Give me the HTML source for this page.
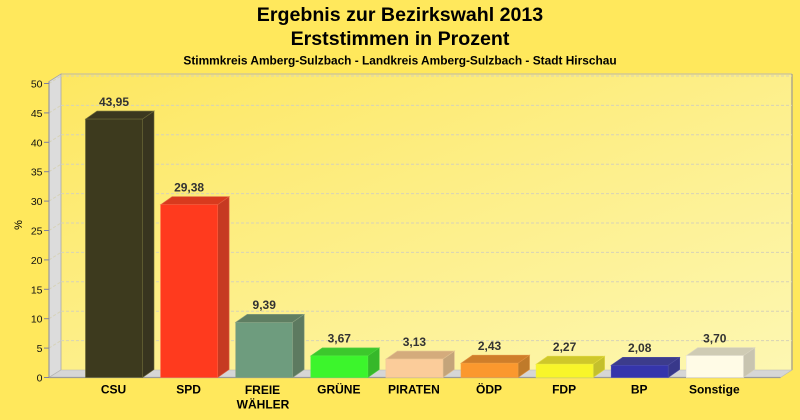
<!DOCTYPE html>
<html><head><meta charset="utf-8"><style>
html,body{margin:0;padding:0;background:#ffe85c;}
svg{display:block;}
text{font-family:"Liberation Sans",Arial,sans-serif;}
</style></head><body>
<svg width="800" height="420" viewBox="0 0 800 420" xmlns="http://www.w3.org/2000/svg">
<defs>
<linearGradient id="bg" x1="0" y1="0" x2="1" y2="1">
<stop offset="0" stop-color="#fde761"/>
<stop offset="1" stop-color="#fdf7b2"/>
</linearGradient>
</defs>
<rect width="800" height="420" fill="#ffe85c"/>
<!-- titles -->
<text x="400" y="21" text-anchor="middle" font-size="19.6" font-weight="bold" fill="#000">Ergebnis zur Bezirkswahl 2013</text>
<text x="400" y="45" text-anchor="middle" font-size="19.6" font-weight="bold" fill="#000">Erststimmen in Prozent</text>
<text x="400" y="64.5" text-anchor="middle" font-size="11.9" font-weight="bold" fill="#000">Stimmkreis Amberg-Sulzbach - Landkreis Amberg-Sulzbach - Stadt Hirschau</text>

<!-- back plane -->
<rect x="61" y="74" width="731" height="296" fill="url(#bg)"/>
<line x1="61" y1="74" x2="792" y2="74" stroke="#c9c29a" stroke-width="1.2"/>
<line x1="792" y1="74" x2="792" y2="370" stroke="#b0a98a" stroke-width="1.5"/>
<!-- left wall -->
<polygon points="49,81.5 61,74 61,370 49,377.5" fill="#dcdcdc" stroke="#a8a8a8" stroke-width="0.8"/>
<!-- floor -->
<polygon points="49,377.5 61,370 792,370 780.5,377.5" fill="#d6d6d6" stroke="#b8b8b8" stroke-width="0.6"/>

<!-- gridlines -->
<g stroke="#d6d2b8" stroke-width="1" stroke-dasharray="3,2" fill="none">
<line x1="61" y1="76" x2="792" y2="76"/>
<line x1="61" y1="105.4" x2="792" y2="105.4"/>
<line x1="61" y1="134.8" x2="792" y2="134.8"/>
<line x1="61" y1="164.2" x2="792" y2="164.2"/>
<line x1="61" y1="193.6" x2="792" y2="193.6"/>
<line x1="61" y1="223" x2="792" y2="223"/>
<line x1="61" y1="252.4" x2="792" y2="252.4"/>
<line x1="61" y1="281.8" x2="792" y2="281.8"/>
<line x1="61" y1="311.2" x2="792" y2="311.2"/>
<line x1="61" y1="340.6" x2="792" y2="340.6"/>
<line x1="49" y1="83.5" x2="61" y2="76"/>
<line x1="49" y1="112.9" x2="61" y2="105.4"/>
<line x1="49" y1="142.3" x2="61" y2="134.8"/>
<line x1="49" y1="171.7" x2="61" y2="164.2"/>
<line x1="49" y1="201.1" x2="61" y2="193.6"/>
<line x1="49" y1="230.5" x2="61" y2="223"/>
<line x1="49" y1="259.9" x2="61" y2="252.4"/>
<line x1="49" y1="289.3" x2="61" y2="281.8"/>
<line x1="49" y1="318.7" x2="61" y2="311.2"/>
<line x1="49" y1="348.1" x2="61" y2="340.6"/>
</g>

<!-- axes -->
<line x1="49" y1="81.5" x2="49" y2="377.5" stroke="#9a9a9a" stroke-width="1.2"/>
<line x1="49" y1="377.5" x2="780.5" y2="377.5" stroke="#9a9a9a" stroke-width="1.2"/>
<g stroke="#8080a0" stroke-width="1">
<line x1="44" y1="377.5" x2="49" y2="377.5"/>
<line x1="44" y1="348.1" x2="49" y2="348.1"/>
<line x1="44" y1="318.7" x2="49" y2="318.7"/>
<line x1="44" y1="289.3" x2="49" y2="289.3"/>
<line x1="44" y1="259.9" x2="49" y2="259.9"/>
<line x1="44" y1="230.5" x2="49" y2="230.5"/>
<line x1="44" y1="201.1" x2="49" y2="201.1"/>
<line x1="44" y1="171.7" x2="49" y2="171.7"/>
<line x1="44" y1="142.3" x2="49" y2="142.3"/>
<line x1="44" y1="112.9" x2="49" y2="112.9"/>
<line x1="44" y1="83.5" x2="49" y2="83.5"/>
</g>
<g font-size="10.5" fill="#111" text-anchor="end">
<text x="42.5" y="381.5">0</text>
<text x="42.5" y="352.1">5</text>
<text x="42.5" y="322.7">10</text>
<text x="42.5" y="293.3">15</text>
<text x="42.5" y="263.9">20</text>
<text x="42.5" y="234.5">25</text>
<text x="42.5" y="205.1">30</text>
<text x="42.5" y="175.7">35</text>
<text x="42.5" y="146.3">40</text>
<text x="42.5" y="116.9">45</text>
<text x="42.5" y="87.5">50</text>
</g>
<text x="0" y="0" font-size="11" fill="#000" text-anchor="middle" transform="translate(22,225) rotate(-90)">%</text>

<!-- bars -->
<g stroke-width="0.6">
<!-- CSU -->
<polygon points="85.5,119.1 97,111.1 154,111.1 142.5,119.1" fill="#3b381f" stroke="#6b6838"/>
<polygon points="142.5,119.1 154,111.1 154,369.5 142.5,377.5" fill="#38351f" stroke="#6b6838"/>
<rect x="85.5" y="119.1" width="57" height="258.4" fill="#3d3a1e" stroke="#6b6838"/>
<!-- SPD -->
<polygon points="160.6,204.7 172.1,196.7 229.1,196.7 217.6,204.7" fill="#d83a1e" stroke="#e06040"/>
<polygon points="217.6,204.7 229.1,196.7 229.1,369.5 217.6,377.5" fill="#c63a22" stroke="#e06040"/>
<rect x="160.6" y="204.7" width="57" height="172.8" fill="#ff3a1e" stroke="#ff6040"/>
<!-- FREIE WÄHLER -->
<polygon points="235.7,322.3 247.2,314.3 304.2,314.3 292.7,322.3" fill="#5f7e62" stroke="#8aa080"/>
<polygon points="292.7,322.3 304.2,314.3 304.2,369.5 292.7,377.5" fill="#5d7a60" stroke="#8aa080"/>
<rect x="235.7" y="322.3" width="57" height="55.2" fill="#6e9c7e" stroke="#8aa080"/>
<!-- GRÜNE -->
<polygon points="310.8,355.9 322.3,347.9 379.3,347.9 367.8,355.9" fill="#3cc82c" stroke="#50d040"/>
<polygon points="367.8,355.9 379.3,347.9 379.3,369.5 367.8,377.5" fill="#36b82a" stroke="#50d040"/>
<rect x="310.8" y="355.9" width="57" height="21.6" fill="#3cf52c" stroke="#50f040"/>
<!-- PIRATEN -->
<polygon points="385.9,359.1 397.4,351.1 454.4,351.1 442.9,359.1" fill="#d4ab7c" stroke="#e0c090"/>
<polygon points="442.9,359.1 454.4,351.1 454.4,369.5 442.9,377.5" fill="#c4a47a" stroke="#e0c090"/>
<rect x="385.9" y="359.1" width="57" height="18.4" fill="#fbcc9a" stroke="#f0c898"/>
<!-- ÖDP -->
<polygon points="461,363.2 472.5,355.2 529.5,355.2 518,363.2" fill="#cf7e2a" stroke="#e09040"/>
<polygon points="518,363.2 529.5,355.2 529.5,369.5 518,377.5" fill="#bf7a2a" stroke="#e09040"/>
<rect x="461" y="363.2" width="57" height="14.3" fill="#fb982e" stroke="#f0a040"/>
<!-- FDP -->
<polygon points="536.1,364.2 547.6,356.2 604.6,356.2 593.1,364.2" fill="#cfc82a" stroke="#e0d840"/>
<polygon points="593.1,364.2 604.6,356.2 604.6,369.5 593.1,377.5" fill="#c4c02c" stroke="#e0d840"/>
<rect x="536.1" y="364.2" width="57" height="13.3" fill="#f8f52a" stroke="#f0f040"/>
<!-- BP -->
<polygon points="611.2,365.3 622.7,357.3 679.7,357.3 668.2,365.3" fill="#3c3c8c" stroke="#5050a0"/>
<polygon points="668.2,365.3 679.7,357.3 679.7,369.5 668.2,377.5" fill="#38388a" stroke="#5050a0"/>
<rect x="611.2" y="365.3" width="57" height="12.2" fill="#3535ab" stroke="#5050b0"/>
<!-- Sonstige -->
<polygon points="686.3,355.7 697.8,347.7 754.8,347.7 743.3,355.7" fill="#cfcbb4" stroke="#d8d4c0"/>
<polygon points="743.3,355.7 754.8,347.7 754.8,369.5 743.3,377.5" fill="#c8c4b0" stroke="#d8d4c0"/>
<rect x="686.3" y="355.7" width="57" height="21.8" fill="#fffbe6" stroke="#eeeadc"/>
</g>

<!-- value labels -->
<g font-size="12" font-weight="bold" fill="#333" text-anchor="middle">
<text x="114" y="105.8">43,95</text>
<text x="189.1" y="191.4">29,38</text>
<text x="264.2" y="309">9,39</text>
<text x="339.3" y="342.6">3,67</text>
<text x="414.4" y="345.8">3,13</text>
<text x="489.5" y="349.9">2,43</text>
<text x="564.6" y="350.9">2,27</text>
<text x="639.7" y="352">2,08</text>
<text x="714.8" y="342.4">3,70</text>
</g>

<!-- category labels -->
<g font-size="12" font-weight="bold" fill="#000" text-anchor="middle">
<text x="113.5" y="393.5">CSU</text>
<text x="188.6" y="393.5">SPD</text>
<text x="262.5" y="394">FREIE</text>
<text x="263" y="408.5">WÄHLER</text>
<text x="338.8" y="393.5">GRÜNE</text>
<text x="413.9" y="393.5">PIRATEN</text>
<text x="489" y="393.5">ÖDP</text>
<text x="564.1" y="393.5">FDP</text>
<text x="639.2" y="393.5">BP</text>
<text x="714.3" y="393.5">Sonstige</text>
</g>
</svg>
</body></html>
